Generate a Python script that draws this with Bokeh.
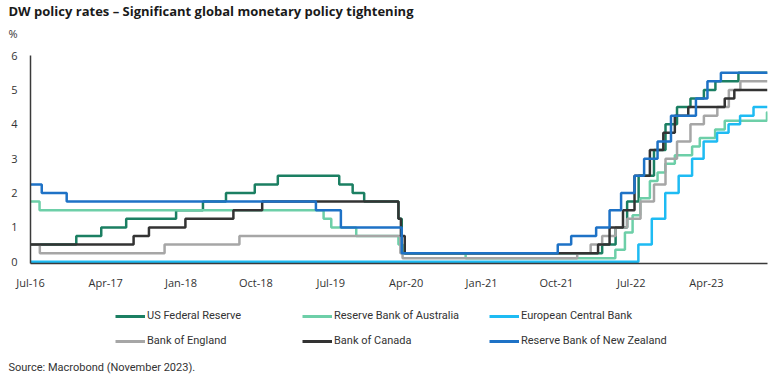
import pandas as pd
from bokeh.plotting import figure
from bokeh.layouts import column
from bokeh.models import Range1d, FixedTicker, Legend, LegendItem, Label, Plot
from bokeh.embed import file_html
from bokeh.resources import INLINE

# ---------------- data (policy rate change dates and levels, %) ----------------
END_DATE = "2023-11-10"

fed_dates = ["2016-07-01", "2016-12-15", "2017-03-16", "2017-06-15", "2017-12-14", "2018-03-22",
             "2018-06-14", "2018-09-27", "2018-12-20", "2019-08-01", "2019-09-19", "2019-10-31",
             "2020-03-04", "2020-03-16", "2022-03-17", "2022-05-05", "2022-06-16", "2022-07-28",
             "2022-09-22", "2022-11-03", "2022-12-15", "2023-02-02", "2023-03-23", "2023-05-04",
             "2023-07-27"]
fed_rates = [0.5, 0.75, 1.0, 1.25, 1.5, 1.75, 2.0, 2.25, 2.5, 2.25, 2.0, 1.75,
             1.25, 0.25, 0.5, 1.0, 1.75, 2.5, 3.25, 4.0, 4.5, 4.75, 5.0, 5.25, 5.5]

rba_dates = ["2016-07-01", "2016-08-03", "2019-06-05", "2019-07-03", "2019-10-02", "2020-03-04",
             "2020-03-20", "2020-11-04", "2022-05-04", "2022-06-08", "2022-07-06", "2022-08-03",
             "2022-09-07", "2022-10-05", "2022-11-02", "2022-12-07", "2023-02-08", "2023-03-08",
             "2023-05-03", "2023-06-07", "2023-11-08"]
rba_rates = [1.75, 1.5, 1.25, 1.0, 0.75, 0.5, 0.25, 0.1, 0.35, 0.85, 1.35, 1.85,
             2.35, 2.6, 2.85, 3.1, 3.35, 3.6, 3.85, 4.1, 4.35]

ecb_dates = ["2016-07-01", "2022-07-27", "2022-09-14", "2022-11-02", "2022-12-21", "2023-02-08",
             "2023-03-22", "2023-05-10", "2023-06-21", "2023-08-02", "2023-09-20"]
ecb_rates = [0.0, 0.5, 1.25, 2.0, 2.5, 3.0, 3.5, 3.75, 4.0, 4.25, 4.5]

boe_dates = ["2016-07-01", "2016-08-04", "2017-11-02", "2018-08-02", "2020-03-11", "2020-03-19",
             "2021-12-16", "2022-02-03", "2022-03-17", "2022-05-05", "2022-06-16", "2022-08-04",
             "2022-09-22", "2022-11-03", "2022-12-15", "2023-02-02", "2023-03-23", "2023-05-11",
             "2023-06-22", "2023-08-03"]
boe_rates = [0.5, 0.25, 0.5, 0.75, 0.25, 0.1, 0.25, 0.5, 0.75, 1.0, 1.25, 1.75,
             2.25, 3.0, 3.5, 4.0, 4.25, 4.5, 5.0, 5.25]

boc_dates = ["2016-07-01", "2017-07-12", "2017-09-06", "2018-01-17", "2018-07-11", "2018-10-24",
             "2020-03-04", "2020-03-13", "2020-03-27", "2022-03-02", "2022-04-13", "2022-06-01",
             "2022-07-13", "2022-09-07", "2022-10-26", "2022-12-07", "2023-01-25", "2023-06-07",
             "2023-07-12"]
boc_rates = [0.5, 0.75, 1.0, 1.25, 1.5, 1.75, 1.25, 0.75, 0.25, 0.5, 1.0, 1.5,
             2.5, 3.25, 3.75, 4.25, 4.5, 4.75, 5.0]

rbnz_dates = ["2016-07-01", "2016-08-11", "2016-11-10", "2019-05-08", "2019-08-07", "2020-03-16",
              "2021-10-06", "2021-11-24", "2022-02-23", "2022-04-13", "2022-05-25", "2022-07-13",
              "2022-08-17", "2022-10-05", "2022-11-23", "2023-02-22", "2023-04-05", "2023-05-24"]
rbnz_rates = [2.25, 2.0, 1.75, 1.5, 1.0, 0.25, 0.5, 0.75, 1.0, 1.5, 2.0, 2.5,
              3.0, 3.5, 4.25, 4.75, 5.25, 5.5]

series_names = ["US Federal Reserve", "Reserve Bank of Australia", "European Central Bank",
                "Bank of England", "Bank of Canada", "Reserve Bank of New Zealand"]
series_colors = ["#1b7f62", "#6dcfa8", "#1ebbf3", "#a6a6a6", "#333333", "#1e72c6"]

tick_dates = ["2016-07-01", "2017-04-01", "2018-01-01", "2018-10-01", "2019-07-01",
              "2020-04-01", "2021-01-01", "2021-10-01", "2022-07-01", "2023-04-01"]
tick_labels = ["Jul-16", "Apr-17", "Jan-18", "Oct-18", "Jul-19",
               "Apr-20", "Jan-21", "Oct-21", "Jul-22", "Apr-23"]
y_ticks = [0, 1, 2, 3, 4, 5, 6]

TITLE = "DW policy rates \u2013 Significant global monetary policy tightening"
UNIT = "%"
SOURCE = "Source: Macrobond (November 2023)."

W = 768
H_TOP, H_MAIN, H_BOT = 47, 245, 87

# does this Bokeh let a plot opt out of frame alignment inside a column?
CAN_UNALIGN = "frame_align" in Plot.properties()
SHIFT = 0 if CAN_UNALIGN else 30   # otherwise the blank frames start at x=30


def ms(d):
    return pd.Timestamp(d).value // 10**6


def blank_fig(h):
    extra = {"frame_align": False} if CAN_UNALIGN else {}
    f = figure(width=W, height=h, output_backend="svg", toolbar_location=None, tools="",
               x_range=Range1d(0, W), y_range=Range1d(0, h),
               x_axis_location=None, y_axis_location=None,
               min_border=0, min_border_left=0, min_border_right=0,
               min_border_top=0, min_border_bottom=0, **extra)
    f.outline_line_color = None
    f.grid.visible = False
    f.background_fill_color = "white"
    f.border_fill_color = "white"
    return f


# ---------------- header (title and unit) ----------------
top = blank_fig(H_TOP)
top.add_layout(Label(x=8 - SHIFT, y=H_TOP - 10, x_units="screen", y_units="screen", text=TITLE,
                     text_font="Open Sans", text_font_style="bold", text_font_size="13px",
                     text_color="#1a1a1a", text_baseline="middle"))
top.add_layout(Label(x=8 - SHIFT, y=H_TOP - 33, x_units="screen", y_units="screen", text=UNIT,
                     text_font="Open Sans", text_font_size="11px", text_color="#333333",
                     text_baseline="middle"))

# ---------------- main chart ----------------
p = figure(width=W, height=H_MAIN, x_axis_type="datetime", output_backend="svg",
           toolbar_location=None, tools="",
           x_range=Range1d(pd.Timestamp("2016-07-01"), pd.Timestamp(END_DATE)),
           y_range=Range1d(-0.05, 6),
           min_border_left=30, min_border_right=1, min_border_top=8, min_border_bottom=29)
p.outline_line_color = None
p.grid.visible = False
p.background_fill_color = "white"
p.border_fill_color = "white"

all_series = [(fed_dates, fed_rates), (rba_dates, rba_rates), (ecb_dates, ecb_rates),
              (boe_dates, boe_rates), (boc_dates, boc_rates), (rbnz_dates, rbnz_rates)]
series_xy = []
for (dts, vals), col in zip(all_series, series_colors):
    xs = [pd.Timestamp(d) for d in dts] + [pd.Timestamp(END_DATE)]
    ys = list(vals) + [vals[-1]]
    series_xy.append((xs, ys))
    p.step(xs, ys, mode="after", line_color=col, line_width=2.5)

for ax in (p.xaxis[0], p.yaxis[0]):
    ax.axis_line_color = "#3a3a3a"
    ax.axis_line_width = 1.5
    ax.major_tick_line_color = None
    ax.minor_tick_line_color = None
    ax.major_tick_out = 0
    ax.major_tick_in = 0
    ax.minor_tick_out = 0
    ax.major_label_text_font = "Open Sans"
    ax.major_label_text_font_size = "11px"
    ax.major_label_text_color = "#333333"

p.xaxis.ticker = FixedTicker(ticks=[ms(d) for d in tick_dates])
p.xaxis.major_label_overrides = {ms(d): lab for d, lab in zip(tick_dates, tick_labels)}
p.xaxis.major_label_standoff = 11
p.yaxis.ticker = FixedTicker(ticks=y_ticks)
p.yaxis.major_label_standoff = 13

# ---------------- footer (legend and source) ----------------
bot = blank_fig(H_BOT)
# legend keys: the same series, drawn in the footer (outside its visible ranges)
proxies = [bot.line([ms(x) for x in xs], ys, line_color=c, line_width=3)
           for (xs, ys), c in zip(series_xy, series_colors)]
legend_style = dict(orientation="horizontal", padding=0, margin=0, spacing=13,
                    glyph_width=30, glyph_height=12, label_height=12, label_width=142,
                    label_standoff=2, border_line_color=None, background_fill_alpha=0,
                    label_text_font="Roboto", label_text_font_size="11px",
                    label_text_color="#333333")
row1 = [LegendItem(label=series_names[i], renderers=[proxies[i]]) for i in (0, 1, 2)]
row2 = [LegendItem(label=series_names[i], renderers=[proxies[i]]) for i in (3, 4, 5)]
# row centres at page y 315 and 340 (footer starts at page y 292)
bot.add_layout(Legend(items=row1, location=(115 - SHIFT, H_BOT - (316 - 292) - 6), **legend_style))
bot.add_layout(Legend(items=row2, location=(115 - SHIFT, H_BOT - (341 - 292) - 6), **legend_style))
bot.add_layout(Label(x=8 - SHIFT, y=H_BOT - (367 - 292), x_units="screen", y_units="screen",
                     text=SOURCE, text_font="Roboto", text_font_size="11px",
                     text_color="#333333", text_baseline="middle"))

layout = column(top, p, bot, spacing=0)
open("out.html", "w").write(file_html(layout, INLINE))
